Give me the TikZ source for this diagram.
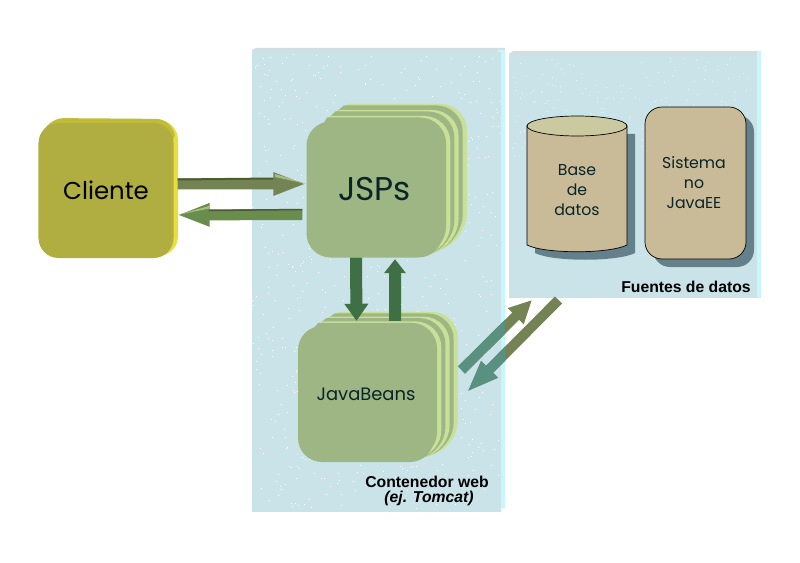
\documentclass[tikz,border=0pt]{standalone}
\usepackage{fontspec}
\setmainfont{Poppins}
\newfontfamily\lblfont{Liberation Sans}
\usetikzlibrary{arrows.meta}
\definecolor{panel}{HTML}{C9E3E9}
\definecolor{panelside}{HTML}{C8F6FB}
\definecolor{paneltop}{HTML}{D2DFE0}
\definecolor{cli}{HTML}{B0AE40}
\definecolor{clitop}{HTML}{C0BC38}
\definecolor{cliside}{HTML}{E5E040}
\definecolor{stk}{HTML}{9DB683}
\definecolor{stklight}{HTML}{C8E098}
\definecolor{olive}{HTML}{738354}
\definecolor{olivedark}{HTML}{4E5A30}
\definecolor{olivetip}{HTML}{A6C080}
\definecolor{forest}{HTML}{3F6F44}
\definecolor{teal}{HTML}{5A9080}
\definecolor{tan}{HTML}{C9BA98}
\definecolor{tantop}{HTML}{CBC9A0}
\definecolor{shade}{HTML}{64808A}
\definecolor{ink}{HTML}{0A2428}
% one layer of a stack: x0 y0 x1 y1 dx dy colour
\newcommand{\stacklayer}[7]{%
  \fill[#7] ({#1+16},{#2+2}) -- ({#1+16+#5},{#2+#6-0.5*#5+0.5*#5}) [rounded corners=26bp] -- ({#3+#5},{#2+#6}) -- ({#3+#5},{#4+#6}) [sharp corners] -- ({#3-12},{#4-3}) -- cycle;}
\newcommand{\stackall}[4]{%
  \foreach \k in {3,2,1}{
    \pgfmathsetmacro{\ddx}{8.3*\k}\pgfmathsetmacro{\ddy}{-#4*\k}
    \pgfmathsetmacro{\ddxm}{8.3*\k-4.2}\pgfmathsetmacro{\ddym}{-#4*\k+1.5}
    \stacklayer{#1}{#2}{#3}{#2+135}{\ddx}{\ddy}{stklight}
    \stacklayer{#1}{#2}{#3}{#2+135}{\ddxm}{\ddym}{stk}
  }}
\tikzset{
  panelbox/.style={fill=panel,draw=none,inner sep=0,minimum width=#1},
  stackbox/.style={fill=stk,draw=none,rounded corners=24bp,inner sep=0,minimum width=136bp,minimum height=136bp,text=ink},
  fat/.style={line width=11bp,draw=#1,-{Triangle[length=33bp,width=21bp,fill=#1]}},
  fatdn/.style={line width=12bp,draw=#1,-{Triangle[length=17bp,width=23bp,fill=#1]}},
  fatup/.style={line width=12bp,draw=#1,-{Triangle[length=14bp,width=21bp,fill=#1]}},
  diagup/.style={line width=10bp,draw=#1,-{Triangle[length=23bp,width=21bp,fill=#1]}},
  diagdn/.style={line width=10bp,draw=#1,-{Triangle[length=32bp,width=21bp,fill=#1]}},
  srctext/.style={text=ink,align=center,inner sep=0,font=\fontsize{15.8}{20}\selectfont},
  caption/.style={font=\lblfont\bfseries\fontsize{15.8}{18}\selectfont,text=black,align=center,inner sep=0},
}
\begin{document}
\begin{tikzpicture}[x=1bp,y=-1bp]
\useasboundingbox (0,0) rectangle (800,563);
\fill[white] (0,0) rectangle (800,563);
% panels
\fill[paneltop] (252,50) -- (256,48) -- (505,48) -- (505,53) -- (252,53) -- cycle;
\fill[panelside] (498,50) rectangle (505,508) -- (500,512) -- (498,512) -- cycle;
\node[panelbox=248.5bp,minimum height=460bp,anchor=north west] (web) at (252,52) {};
\fill[paneltop] (509,54) -- (513,51) -- (761,51) -- (761,55) -- (509,55) -- cycle;
\fill[panelside] (757,51) rectangle (761,298);
\node[panelbox=248bp,minimum height=243bp,anchor=north west] (src) at (509,55) {};
% speckle
\pgfmathsetseed{4242}
\foreach \i in {1,...,620}{
  \pgfmathsetmacro{\px}{252+rnd*248}\pgfmathsetmacro{\py}{54+rnd*456}
  \fill[white] (\px,\py) rectangle +(1,1);
}
\foreach \i in {1,...,220}{
  \pgfmathsetmacro{\px}{512+rnd*244}\pgfmathsetmacro{\py}{58+rnd*100}
  \fill[white,opacity=.6] (\px,\py) rectangle +(1,1);
}
% Cliente
\node[fill=cliside,rounded corners=20bp,minimum width=136bp,minimum height=136bp,inner sep=0] at (110,188) {};
\fill[clitop,rounded corners=18bp] (38,150) -- (46,118) -- (174,119) -- (175,150) -- cycle;
\node[fill=cli,rounded corners=20bp,minimum width=135bp,minimum height=135bp,inner sep=0,
      font=\fontsize{24.5}{30}\selectfont,text=black] (client) at (106,190.5) {Cliente};
% JSP stack
\stackall{307}{122}{442}{6}
\node[stackbox,font=\fontsize{33}{38}\selectfont] (jsp) at (374.5,189.5) {JSPs};
% JavaBeans stack
\stackall{298}{326}{433}{4.7}
\node[stackbox,font=\fontsize{18}{22}\selectfont] (beans) at (366,394) {JavaBeans};
% database
\path[fill=shade] (535,134) -- (535,253) .. controls (553,262) and (617,262) .. (635,253) -- (635,134) -- cycle;
\path[fill=tan,draw=black,line width=0.7bp] (527,126) -- (527,245) .. controls (545,254) and (609,254) .. (627,245) -- (627,126) -- cycle;
\draw[fill=tantop,draw=black,line width=0.7bp] (577,126) ellipse [x radius=50,y radius=10];
\node[srctext] (db) at (577,190) {Base\\de\\datos};
% other system
\node[fill=shade,rounded corners=17bp,minimum width=101bp,minimum height=152bp,inner sep=0] (sysshadow) at (703.5,191) {};
\node[fill=tan,draw=black,line width=0.7bp,rounded corners=17bp,minimum width=101bp,minimum height=152bp,inner sep=0] (sysbox) at (695.5,183) {};
\node[srctext] (sys) at (694,183) {Sistema\\no\\JavaEE};
% horizontal arrows
\draw[fat=olive] ([xshift=4bp,yshift=6.5bp]client.east) -- ([yshift=5.5bp]jsp.west);
\draw[olivedark,line width=2bp] ([xshift=4bp,yshift=11bp]client.east) -- ([xshift=-33bp,yshift=11bp]jsp.west);
\draw[fat=olive!92!green] ([xshift=-4bp,yshift=-25bp]jsp.west) -- ([xshift=3bp,yshift=-24.5bp]client.east);
\draw[olivedark,line width=1.5bp] ([xshift=-4bp,yshift=-20bp]jsp.west) -- ([xshift=35bp,yshift=-20bp]client.east);
\fill[olivetip] (275,174) -- (307,184) -- (275,177) -- cycle;
\fill[olivetip] (209,206) -- (177,215) -- (209,208.5) -- cycle;
% vertical arrows
\draw[fatdn=forest] ([xshift=-18.5bp]jsp.south) -- ([xshift=-9.5bp,yshift=5bp]beans.north);
\draw[fatup=forest] ([xshift=29bp,yshift=5bp]beans.north) -- ([xshift=20.5bp,yshift=-1.5bp]jsp.south);
% diagonal arrows
\coordinate (upS) at (461.5,370);
\coordinate (upE) at (532,300);
\coordinate (dnS) at (558.5,300);
\coordinate (dnE) at (467,392);
\draw[diagup=olive] (upS) -- (upE);
\draw[diagdn=olive] (dnS) -- (dnE);
\begin{scope}
\clip (252,48) rectangle (505,512);
\draw[diagup=teal] (upS) -- (upE);
\draw[diagdn=teal] (dnS) -- (dnE);
\end{scope}
% captions
\node[caption] (cw) at (427,481.5) {Contenedor web};
\node[caption,font=\lblfont\bfseries\itshape\fontsize{15.8}{18}\selectfont] (cw2) at (429,498.5) {(ej. Tomcat)};
\node[caption] (fd) at (686,287) {Fuentes de datos};
\end{tikzpicture}
\end{document}
